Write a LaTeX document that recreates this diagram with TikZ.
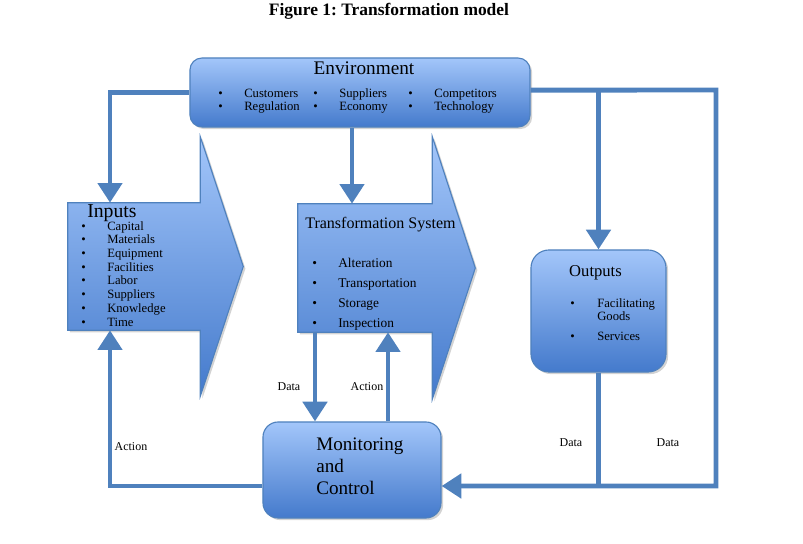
\documentclass[tikz,border=0pt]{standalone}
\usepackage{fontspec}
\setmainfont{Liberation Serif}
\usetikzlibrary{arrows.meta,calc,shadows,positioning}
\definecolor{linkblue}{HTML}{4F81BD}
\definecolor{boxtop}{HTML}{A3C6FA}
\definecolor{boxbottom}{HTML}{447ACC}
\newcommand{\itm}[2][0.65cm]{\makebox[#1][l]{\textbullet}#2}
\frenchspacing

\begin{document}
\begin{tikzpicture}[x=0.025cm,y=-0.025cm,
    flow/.style={draw=linkblue,line width=3.5pt,-{Triangle[length=14pt,width=17pt]}},
    plain/.style={draw=linkblue,line width=3.5pt},
    blockfill/.style={draw=linkblue,line width=0.8pt,top color=boxtop,bottom color=boxbottom,
        drop shadow={shadow xshift=1.5pt,shadow yshift=-1.5pt,opacity=0.35}},
    box/.style={blockfill,rounded corners=#1,inner sep=0pt},
    box/.default=0.3cm,
    body/.style={inner sep=0pt},
    lbl/.style={font=\fontsize{8.5}{9}\selectfont},
    list/.style={align=left,inner sep=0pt,anchor=north west}]

\useasboundingbox (0,0) rectangle (803,544);

\node[font=\bfseries\fontsize{12.4}{14}\selectfont] (title) at (389,11) {Figure 1: Transformation model};

% boxes
\node[box=0.3cm, minimum width=8.5cm, minimum height=1.725cm] (env) at (360,92.5) {};
\node[box=0.45cm, minimum width=3.375cm, minimum height=3.05cm] (outputs) at (598.5,311) {};
\node[box=0.38cm, minimum width=4.45cm, minimum height=2.4cm] (monitor) at (352,470) {};

% big arrows
\node[body, minimum width=3.3cm, minimum height=3.175cm] (inputs) at (134,266.5) {};
\path[blockfill] (inputs.south west) -- (inputs.north west) -- (inputs.north east) -- ++(0,-66)
    -- ($(inputs.east)+(43,0)$) -- ($(inputs.south east)+(0,66)$) -- (inputs.south east) -- cycle;
\node[body, minimum width=3.35cm, minimum height=3.2cm] (trans) at (365,268) {};
\path[blockfill] (trans.south west) -- (trans.north west) -- (trans.north east) -- ++(0,-67)
    -- ($(trans.east)+(43,0)$) -- ($(trans.south east)+(0,67)$) -- (trans.south east) -- cycle;

% texts
\node[font=\fontsize{13.7}{15}\selectfont] (envtitle) at (364,68) {Environment};
\node[list, font=\fontsize{9}{9.4}\selectfont] (envlist) at (218,88)
    {\makebox[2.375cm][l]{\itm{Customers}}\makebox[2.375cm][l]{\itm{Suppliers}}\itm{Competitors}\\
     \makebox[2.375cm][l]{\itm{Regulation}}\makebox[2.375cm][l]{\itm{Economy}}\itm{Technology}};

\node[anchor=west, inner sep=0pt, font=\fontsize{14}{16}\selectfont] (intitle) at (87,213) {Inputs};
\node[list, font=\fontsize{9}{9.75}\selectfont] (inlist) at (81,221)
    {\itm{Capital}\\ \itm{Materials}\\ \itm{Equipment}\\ \itm{Facilities}\\
     \itm{Labor}\\ \itm{Suppliers}\\ \itm{Knowledge}\\ \itm{Time}};

\node[anchor=west, inner sep=0pt, font=\fontsize{11.4}{13}\selectfont] (transtitle) at (305,225) {Transformation System};
\node[list, font=\fontsize{9.5}{14.2}\selectfont] (translist) at (312,258)
    {\itm{Alteration}\\ \itm{Transportation}\\ \itm{Storage}\\ \itm{Inspection}};

\node[font=\fontsize{11.8}{13}\selectfont] (outtitle) at (595.5,273) {Outputs};
\node[list, font=\fontsize{9}{9.2}\selectfont] (outlist) at (570,298.5)
    {\itm[0.675cm]{Facilitating}\\ \hspace*{0.675cm}Goods\\[5pt] \itm[0.675cm]{Services}};

\node[list, font=\fontsize{13.6}{15.6}\selectfont] (montext) at (316,438) {Monitoring\\ and\\ Control};

% connectors
\coordinate (ne) at (716,90);
\draw[flow] (env.west) -| ([xshift=-0.6cm]inputs.north);
\draw[flow] ([xshift=-0.2cm]env.south) -- ([xshift=-0.2cm]env.south |- trans.north);
\draw[flow] ([yshift=0.06cm]env.east) -- (ne) |- ([yshift=-0.4cm]monitor.east);
\draw[flow] (outputs.north |- ne) -- (outputs.north);
\draw[plain] (outputs.south) -- ([yshift=-0.4cm]monitor.east -| outputs.south);
\draw[flow] ([yshift=-0.4cm]monitor.west) -| ([xshift=-0.6cm]inputs.south);
\draw[flow] ([xshift=-1.25cm]trans.south) -- ([xshift=-1.25cm]trans.south |- monitor.north);
\draw[flow] ([xshift=0.575cm]trans.south |- monitor.north) -- ([xshift=0.575cm]trans.south);

% labels
\node[lbl] (data1) at (289,387) {Data};
\node[lbl] (act1) at (367,387) {Action};
\node[lbl] (act2) at (131,447) {Action};
\node[lbl] (data2) at (571,443) {Data};
\node[lbl] (data3) at (668,443) {Data};

\end{tikzpicture}
\end{document}
